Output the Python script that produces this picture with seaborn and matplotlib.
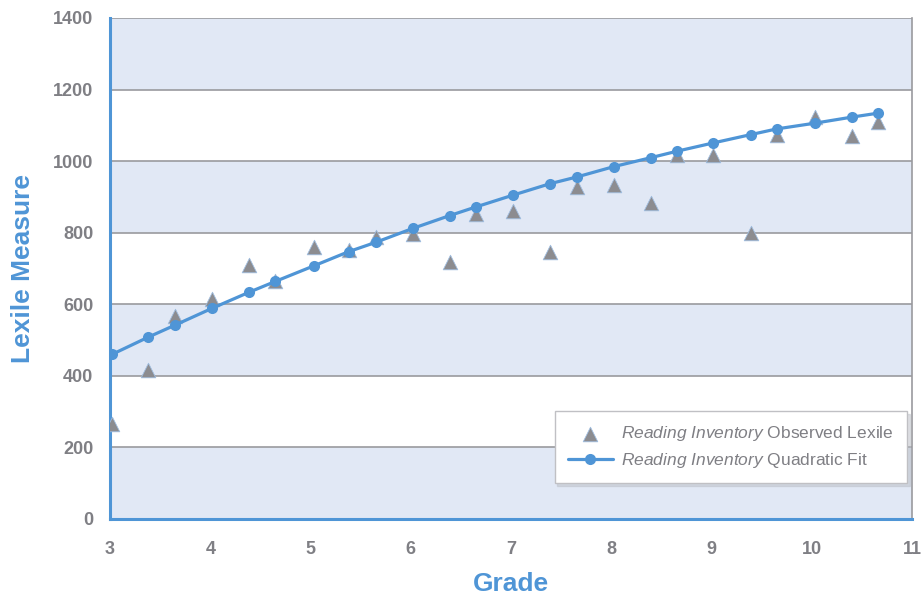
import matplotlib
matplotlib.use("Agg")
import matplotlib.pyplot as plt
import seaborn as sns
import pandas as pd

# data
grades = [3.02, 3.38, 3.65, 4.02, 4.39, 4.65, 5.03, 5.38, 5.65, 6.02, 6.39, 6.65,
          7.02, 7.39, 7.66, 8.03, 8.40, 8.66, 9.02, 9.39, 9.65, 10.03, 10.40, 10.66]
observed = [266, 416, 567, 614, 709, 666, 761, 751, 788, 797, 717, 852,
            862, 747, 927, 933, 882, 1016, 1018, 800, 1073, 1124, 1071, 1108]
fit = [460, 508, 542, 589, 634, 664, 707, 747, 773, 812, 848, 872,
       905, 937, 956, 985, 1010, 1028, 1051, 1074, 1090, 1106, 1123, 1134]
y_ticks = [0, 200, 400, 600, 800, 1000, 1200, 1400]
x_ticks = [3, 4, 5, 6, 7, 8, 9, 10, 11]

df = pd.DataFrame({"Grade": grades, "Observed": observed, "Fit": fit})

BLUE = "#4f95d6"
GREY_TXT = "#7f7f84"
BAND = "#e1e8f5"

sns.set_style("white")
plt.rcParams["font.family"] = ["Liberation Sans", "DejaVu Sans"]
plt.rcParams["mathtext.fontset"] = "custom"
plt.rcParams["mathtext.rm"] = "Liberation Sans"
plt.rcParams["mathtext.it"] = "Liberation Sans:italic"

fig, ax = plt.subplots(figsize=(9.23, 5.96), dpi=100)
fig.subplots_adjust(left=0.1192, right=0.988, top=0.9698, bottom=0.1292)

# alternating bands and grid lines
for lo in [0, 400, 800, 1200]:
    ax.axhspan(lo, lo + 200, color=BAND, zorder=0, lw=0)
for y in y_ticks[1:]:
    ax.axhline(y, color="#9a9a9e", lw=1.2, zorder=1)

sns.scatterplot(data=df, x="Grade", y="Observed", marker="^", s=110,
                color="#8c8c90", edgecolor="#9fbde0", linewidth=0.6,
                ax=ax, zorder=3,
                label=r"$\it{Reading\ Inventory}$ Observed Lexile")
sns.lineplot(data=df, x="Grade", y="Fit", color=BLUE, lw=2.3, marker="o",
             markersize=8, markeredgewidth=0, ax=ax, zorder=4,
             label=r"$\it{Reading\ Inventory}$ Quadratic Fit")

ax.set_xlim(3, 11)
ax.set_ylim(0, 1400)
ax.set_xticks(x_ticks)
ax.set_yticks(y_ticks)
ax.tick_params(axis="both", direction="out", length=6, width=2, color=BLUE,
               labelcolor=GREY_TXT, labelsize=13)
ax.tick_params(axis="y", pad=6)
ax.tick_params(axis="x", pad=10)
for lab in ax.get_xticklabels() + ax.get_yticklabels():
    lab.set_fontweight("bold")

for side in ["left", "bottom"]:
    ax.spines[side].set_color(BLUE)
    ax.spines[side].set_linewidth(2.2)
ax.spines["right"].set_color("#9a9a9e")
ax.spines["right"].set_linewidth(1.2)
ax.spines["top"].set_visible(False)

ax.set_xlabel("Grade", color=BLUE, fontsize=19, fontweight="bold", labelpad=10)
ax.set_ylabel("Lexile Measure", color=BLUE, fontsize=19, fontweight="bold", labelpad=13)

leg = ax.legend(loc="lower right", bbox_to_anchor=(0.994, 0.072), borderaxespad=0,
                frameon=True, shadow={"color": "#b8bcc4", "alpha": 0.45},
                fancybox=False, fontsize=12.5, labelcolor=GREY_TXT,
                borderpad=0.75, labelspacing=0.45, handlelength=2.6,
                handletextpad=0.5)
leg.get_frame().set_edgecolor("#c0c0c4")
leg.get_frame().set_linewidth(1)

fig.savefig("out.png", dpi=100)
